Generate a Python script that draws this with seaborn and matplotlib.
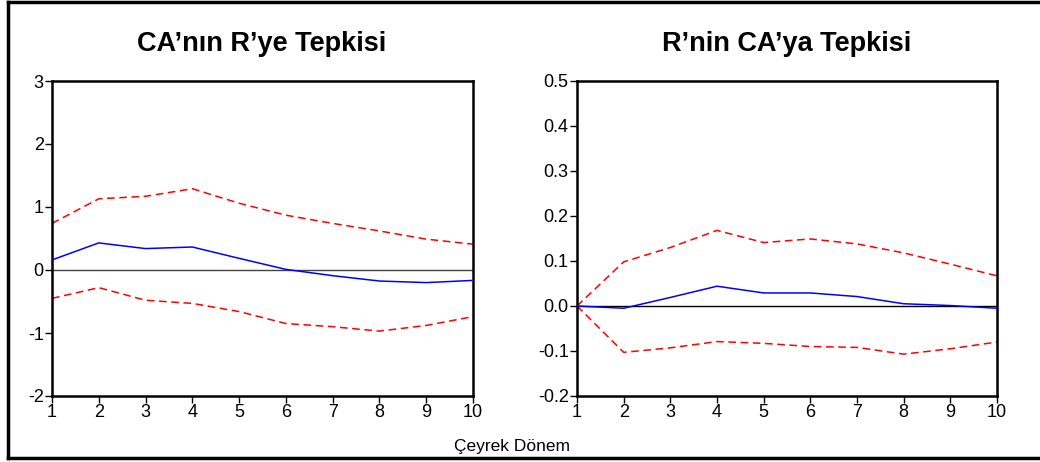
import matplotlib
matplotlib.use("Agg")
import matplotlib.pyplot as plt
import seaborn as sns
import pandas as pd
from matplotlib.lines import Line2D

sns.set_style("white")
plt.rcParams['font.family'] = ['Liberation Sans', 'DejaVu Sans']
plt.rcParams['text.color'] = 'black'
plt.rcParams['xtick.color'] = 'black'
plt.rcParams['ytick.color'] = 'black'

periods = [1, 2, 3, 4, 5, 6, 7, 8, 9, 10]

# Panel 1: CA'nın R'ye Tepkisi
ca_resp = [0.16, 0.43, 0.34, 0.365, 0.185, 0.01, -0.09, -0.175, -0.20, -0.165]
ca_upper = [0.74, 1.13, 1.17, 1.29, 1.06, 0.87, 0.74, 0.62, 0.49, 0.41]
ca_lower = [-0.45, -0.28, -0.48, -0.53, -0.66, -0.85, -0.90, -0.97, -0.88, -0.74]

# Panel 2: R'nin CA'ya Tepkisi
r_resp = [0.0, -0.005, 0.019, 0.044, 0.029, 0.029, 0.021, 0.005, 0.001, -0.005]
r_upper = [0.0, 0.098, 0.13, 0.168, 0.141, 0.149, 0.138, 0.118, 0.093, 0.067]
r_lower = [0.0, -0.103, -0.093, -0.079, -0.083, -0.090, -0.092, -0.107, -0.095, -0.080]

titles = ["CA\u2019nın R\u2019ye Tepkisi", "R\u2019nin CA\u2019ya Tepkisi"]
xlabel = "Çeyrek Dönem"

fig = plt.figure(figsize=(10.4, 4.62), dpi=100)
ax1 = fig.add_axes([52/1040, 1-396/462, (473-52)/1040, (396-81)/462])
ax2 = fig.add_axes([577/1040, 1-396/462, (997-577)/1040, (396-81)/462])

def draw(ax, resp, up, lo, ylim, yticks, yfmt, zcolor):
    df = pd.DataFrame({"p": periods, "r": resp, "u": up, "l": lo})
    ax.axhline(0, color=zcolor, lw=1.0, zorder=1)
    sns.lineplot(data=df, x="p", y="u", ax=ax, color="red", lw=1.1, zorder=2)
    sns.lineplot(data=df, x="p", y="l", ax=ax, color="red", lw=1.1, zorder=2)
    for ln in ax.lines[1:]:
        ln.set_dashes((5, 3))
    sns.lineplot(data=df, x="p", y="r", ax=ax, color="blue", lw=1.1, zorder=3)
    ax.set_xlim(1, 10)
    ax.set_ylim(*ylim)
    ax.set_xticks(periods)
    ax.set_yticks(yticks)
    ax.set_yticklabels([yfmt(v) for v in yticks])
    ax.set_xlabel("")
    ax.set_ylabel("")
    for s in ax.spines.values():
        s.set_visible(True)
        s.set_color("black")
        s.set_linewidth(1.8)
    ax.tick_params(axis="both", which="both", direction="out", length=5, width=1,
                   color="black", labelcolor="black", labelsize=13, pad=1,
                   left=True, bottom=True)

draw(ax1, ca_resp, ca_upper, ca_lower, (-2, 3), [-2, -1, 0, 1, 2, 3],
     lambda v: f"{v:d}", "#444444")
draw(ax2, r_resp, r_upper, r_lower, (-0.2, 0.5), [-0.2, -0.1, 0.0, 0.1, 0.2, 0.3, 0.4, 0.5],
     lambda v: f"{v:.1f}", "black")

fig.text(262/1040, 1-44/462, titles[0], ha="center", va="center", fontsize=19.5,
         fontweight="bold", color="black")
fig.text(787/1040, 1-44/462, titles[1], ha="center", va="center", fontsize=19.5,
         fontweight="bold", color="black")
fig.text(512/1040, 1-446/462, xlabel, ha="center", va="center", fontsize=12.5, color="black")

# outer frame
kw = dict(color="black", lw=2.5, transform=fig.transFigure, solid_capstyle="projecting")
fig.add_artist(Line2D([8/1040, 8/1040], [1-458/462, 1-2/462], **kw))
fig.add_artist(Line2D([8/1040, 1.0], [1-2/462, 1-2/462], **kw))
fig.add_artist(Line2D([8/1040, 1.0], [1-458/462, 1-458/462], **kw))

fig.savefig("out.png", dpi=100)
